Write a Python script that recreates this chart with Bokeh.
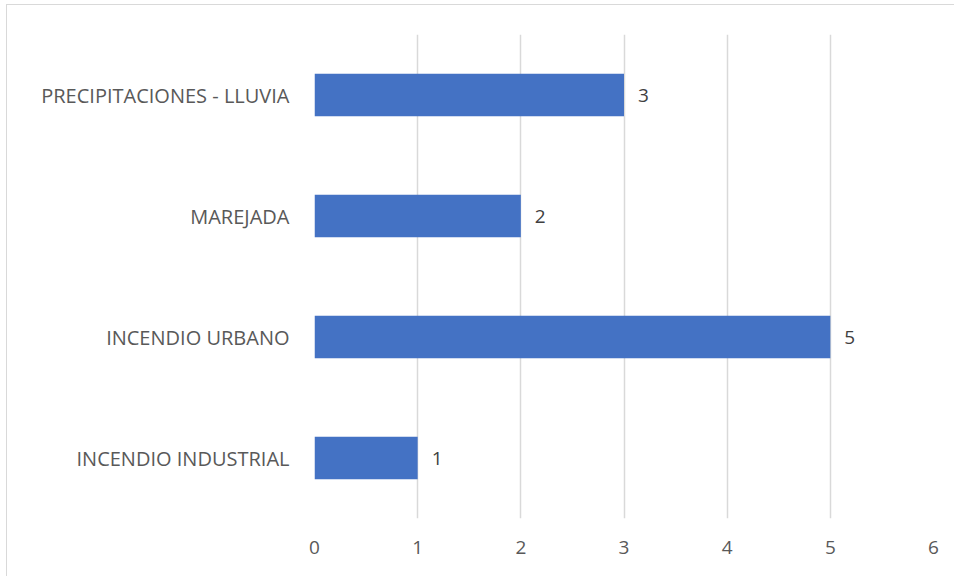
from bokeh.plotting import figure
from bokeh.models import ColumnDataSource, LabelSet, Range1d, FactorRange, SingleIntervalTicker
from bokeh.embed import file_html
from bokeh.resources import INLINE
from bokeh.core.properties import value

categories = ["INCENDIO INDUSTRIAL", "INCENDIO URBANO", "MAREJADA", "PRECIPITACIONES - LLUVIA"]
counts = [1, 5, 2, 3]
labels = [str(c) for c in counts]

src = ColumnDataSource(dict(cat=categories, val=counts, lab=labels))

p = figure(width=948, height=572, output_backend="svg", toolbar_location=None,
           y_range=FactorRange(*categories), x_range=Range1d(0, 6),
           min_border_left=307, min_border_right=22, min_border_top=29, min_border_bottom=59,
           styles={"border-top": "1px solid #d9d9d9", "border-left": "1px solid #d9d9d9",
                   "box-sizing": "border-box",
                   "margin-left": "6px", "margin-top": "4px"})
p.outline_line_color = None
p.hbar(y="cat", right="val", left=0, height=0.35, source=src, color="#4472C4", line_color=None)

p.add_layout(LabelSet(x="val", y="cat", text="lab", source=src, x_offset=14,
                      text_baseline="middle", text_font=value("Open Sans"),
                      text_font_size="19px", text_color="#404040"))

font = "Open Sans"
p.xaxis.ticker = SingleIntervalTicker(interval=1)
for ax in (p.xaxis[0], p.yaxis[0]):
    ax.axis_line_color = None
    ax.major_tick_line_color = None
    ax.minor_tick_line_color = None
    ax.major_label_text_font = font
    ax.major_label_text_font_size = "20px"
    ax.major_label_text_color = "#595959"
p.xaxis.major_label_text_font_size = "19px"
p.xaxis.major_label_standoff = 16
p.yaxis.major_label_standoff = 19

p.xgrid.grid_line_color = "#d9d9d9"
p.xgrid.grid_line_width = 1.5
p.ygrid.grid_line_color = None

open("out.html", "w").write(file_html(p, INLINE))
